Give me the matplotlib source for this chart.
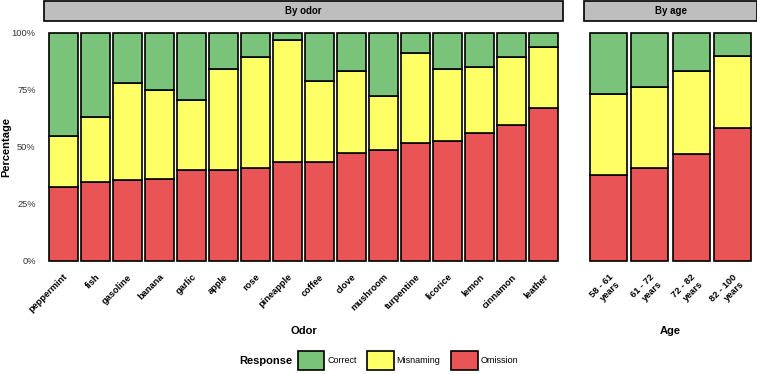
"""Stacked percentage bars of odor identification responses"""
import matplotlib.pyplot as plt
from matplotlib.patches import Patch, Rectangle
from matplotlib.transforms import ScaledTranslation

ODORS = ["peppermint", "fish", "gasoline", "banana", "garlic", "apple", "rose",
         "pineapple", "coffee", "clove", "mushroom", "turpentine", "licorice",
         "lemon", "cinnamon", "leather"]
ODOR_OMISSION = [32.4, 34.6, 35.6, 36.0, 39.8, 39.8, 40.8, 43.2, 43.5, 47.3,
                 48.5, 51.7, 52.7, 55.9, 59.6, 66.9]
ODOR_MISNAMING = [22.6, 28.4, 42.3, 39.0, 30.6, 44.2, 48.5, 53.6, 35.4, 35.9,
                  23.8, 39.5, 31.5, 29.2, 29.7, 26.7]

AGES = ["58 - 61\nyears", "61 - 72\nyears", "72 - 82\nyears", "82 - 100\nyears"]
AGE_OMISSION = [37.6, 40.7, 46.7, 58.1]
AGE_MISNAMING = [35.5, 35.6, 36.6, 31.9]

RESPONSES = ["Correct", "Misnaming", "Omission"]
COLORS = {"Correct": "#79C47A", "Misnaming": "#FFFF66", "Omission": "#E95556"}

plt.rcParams["font.family"] = ["Liberation Sans", "DejaVu Sans"]

FIG = plt.figure(figsize=(7.57, 3.74), dpi=100)
AX_ODOR = FIG.add_axes([0.0581, 0.2717, 0.6856, 0.6709])
AX_AGE = FIG.add_axes([0.7715, 0.2717, 0.2285, 0.6709])


def draw_panel(axis, labels, omission, misnaming, title, xlabel):
    positions = range(len(labels))
    correct = [100 - o - m for o, m in zip(omission, misnaming)]
    style = dict(width=0.9, edgecolor="black", linewidth=1.2)
    axis.bar(positions, [o / 100 for o in omission], color=COLORS["Omission"], **style)
    axis.bar(positions, [m / 100 for m in misnaming],
             bottom=[o / 100 for o in omission], color=COLORS["Misnaming"], **style)
    axis.bar(positions, [c / 100 for c in correct],
             bottom=[(o + m) / 100 for o, m in zip(omission, misnaming)],
             color=COLORS["Correct"], **style)
    axis.set_xlim(-0.6, len(labels) - 0.4)
    axis.set_ylim(-0.05, 1.05)
    axis.set_xticks(list(positions))
    axis.set_xticklabels(labels, rotation=45, ha="right", va="top",
                         rotation_mode="anchor", fontsize=6.7, fontweight="bold",
                         ma="right")
    shift = ScaledTranslation(3 / 72, 4 / 72, FIG.dpi_scale_trans)
    for label in axis.get_xticklabels():
        label.set_transform(label.get_transform() + shift)
    axis.tick_params(axis="x", length=0, pad=0)
    axis.tick_params(axis="y", length=0, pad=6, labelsize=6.7, labelcolor="#333333")
    for spine in axis.spines.values():
        spine.set_visible(False)
    axis.set_xlabel(xlabel, fontsize=8, fontweight="bold")
    axis.xaxis.set_label_coords(0.5, -0.214)
    strip = Rectangle((0, 1.0), 1, 0.082, transform=axis.transAxes,
                      facecolor="#BEBEBE", edgecolor="black", linewidth=1.2,
                      clip_on=False)
    axis.add_patch(strip)
    axis.text(0.5, 1.041, title, transform=axis.transAxes, ha="center",
              va="center", fontsize=7, fontweight="bold")


draw_panel(AX_ODOR, ODORS, ODOR_OMISSION, ODOR_MISNAMING, "By odor", "Odor")
draw_panel(AX_AGE, AGES, AGE_OMISSION, AGE_MISNAMING, "By age", "Age")

AX_ODOR.set_yticks([0, 0.25, 0.5, 0.75, 1.0])
AX_ODOR.set_yticklabels(["0%", "25%", "50%", "75%", "100%"])
AX_ODOR.set_ylabel("Percentage", fontsize=8, fontweight="bold")
AX_ODOR.yaxis.set_label_coords(-0.064, 0.5)
AX_AGE.set_yticks([])

HANDLES = [Patch(facecolor=COLORS[r], edgecolor="black", linewidth=1.2)
           for r in RESPONSES]
FIG.legend(HANDLES, RESPONSES, loc="center", bbox_to_anchor=(0.539, 0.036),
           ncol=3, frameon=False, fontsize=6.5, handlelength=2.9,
           handleheight=2.75, columnspacing=1.2, handletextpad=0.35,
           borderpad=0, borderaxespad=0)
FIG.text(0.351, 0.034, "Response", ha="center", va="center", fontsize=8,
         fontweight="bold")

plt.savefig("out.png", dpi=100)
print("Saved out.png")
